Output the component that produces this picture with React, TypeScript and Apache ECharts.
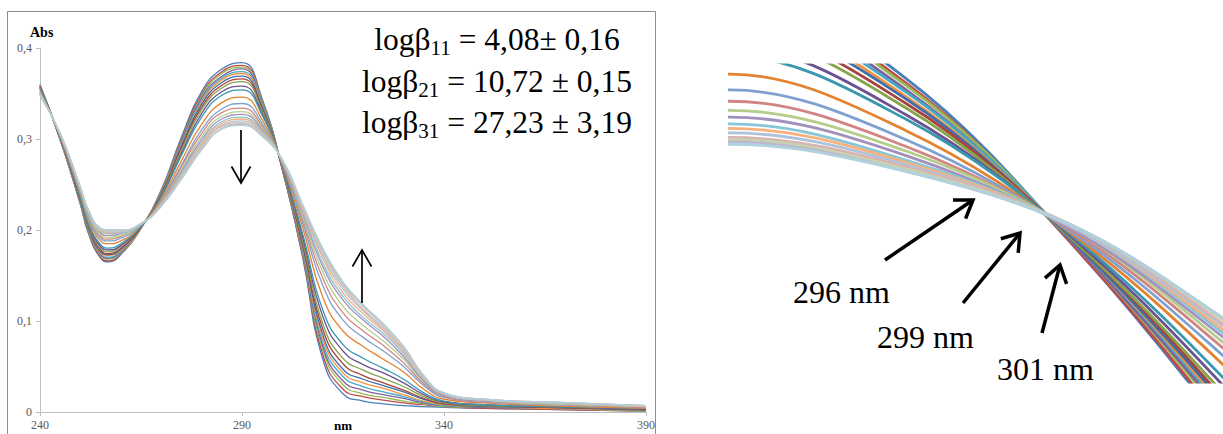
import React, { useEffect, useRef } from "react";
import * as echarts from "echarts";

// Wavelengths (nm) at which the spectra were read
const wavelengths = [240, 245, 250, 252, 255, 257, 260, 265, 270, 275, 280, 285, 290, 295, 300, 305, 310, 315, 320, 325, 330, 335, 340, 350, 365, 390];

// Absorbance: one row per wavelength, one column per titration step (23 spectra)
const absorbance: number[][] = [
  [0.360, 0.359, 0.359, 0.359, 0.358, 0.358, 0.357, 0.357, 0.356, 0.355, 0.355, 0.353, 0.352, 0.351, 0.351, 0.350, 0.350, 0.349, 0.349, 0.349, 0.348, 0.348, 0.348],
  [0.299, 0.299, 0.300, 0.300, 0.300, 0.300, 0.301, 0.301, 0.301, 0.302, 0.302, 0.303, 0.304, 0.304, 0.305, 0.305, 0.305, 0.305, 0.306, 0.306, 0.306, 0.306, 0.306],
  [0.228, 0.229, 0.229, 0.230, 0.231, 0.232, 0.232, 0.233, 0.234, 0.235, 0.236, 0.239, 0.241, 0.242, 0.243, 0.244, 0.245, 0.245, 0.246, 0.246, 0.247, 0.247, 0.247],
  [0.196, 0.197, 0.198, 0.199, 0.200, 0.201, 0.202, 0.203, 0.204, 0.206, 0.207, 0.211, 0.213, 0.215, 0.216, 0.218, 0.219, 0.220, 0.220, 0.221, 0.221, 0.222, 0.222],
  [0.169, 0.170, 0.172, 0.173, 0.174, 0.175, 0.176, 0.178, 0.180, 0.182, 0.184, 0.188, 0.191, 0.193, 0.195, 0.197, 0.198, 0.199, 0.200, 0.201, 0.201, 0.202, 0.202],
  [0.165, 0.166, 0.168, 0.169, 0.170, 0.172, 0.173, 0.174, 0.176, 0.178, 0.180, 0.185, 0.188, 0.190, 0.192, 0.194, 0.196, 0.197, 0.198, 0.199, 0.199, 0.200, 0.200],
  [0.173, 0.174, 0.175, 0.176, 0.177, 0.178, 0.179, 0.180, 0.182, 0.183, 0.185, 0.188, 0.191, 0.193, 0.194, 0.196, 0.197, 0.198, 0.198, 0.199, 0.199, 0.200, 0.200],
  [0.202, 0.202, 0.202, 0.203, 0.203, 0.203, 0.203, 0.203, 0.204, 0.204, 0.204, 0.205, 0.205, 0.206, 0.206, 0.206, 0.206, 0.207, 0.207, 0.207, 0.207, 0.207, 0.207],
  [0.244, 0.243, 0.243, 0.242, 0.241, 0.241, 0.240, 0.239, 0.238, 0.237, 0.236, 0.234, 0.232, 0.231, 0.230, 0.229, 0.228, 0.228, 0.227, 0.227, 0.226, 0.226, 0.226],
  [0.302, 0.300, 0.298, 0.297, 0.295, 0.293, 0.292, 0.290, 0.287, 0.284, 0.282, 0.276, 0.271, 0.269, 0.266, 0.264, 0.262, 0.260, 0.259, 0.258, 0.257, 0.256, 0.256],
  [0.352, 0.349, 0.347, 0.345, 0.342, 0.340, 0.338, 0.335, 0.332, 0.328, 0.324, 0.316, 0.310, 0.306, 0.302, 0.299, 0.296, 0.294, 0.292, 0.291, 0.289, 0.288, 0.288],
  [0.377, 0.374, 0.372, 0.369, 0.367, 0.365, 0.362, 0.359, 0.356, 0.352, 0.348, 0.340, 0.333, 0.329, 0.325, 0.322, 0.319, 0.317, 0.315, 0.314, 0.312, 0.311, 0.311],
  [0.384, 0.381, 0.379, 0.377, 0.374, 0.372, 0.369, 0.366, 0.363, 0.358, 0.354, 0.346, 0.339, 0.334, 0.330, 0.327, 0.324, 0.322, 0.320, 0.318, 0.317, 0.316, 0.315],
  [0.344, 0.342, 0.341, 0.339, 0.338, 0.336, 0.335, 0.333, 0.331, 0.328, 0.326, 0.321, 0.317, 0.314, 0.312, 0.310, 0.308, 0.307, 0.306, 0.305, 0.304, 0.303, 0.303],
  [0.266, 0.266, 0.267, 0.267, 0.268, 0.268, 0.268, 0.269, 0.269, 0.270, 0.271, 0.272, 0.273, 0.274, 0.275, 0.275, 0.276, 0.276, 0.276, 0.277, 0.277, 0.277, 0.277],
  [0.170, 0.172, 0.175, 0.177, 0.179, 0.181, 0.183, 0.185, 0.188, 0.192, 0.196, 0.203, 0.208, 0.212, 0.215, 0.218, 0.220, 0.222, 0.224, 0.225, 0.227, 0.228, 0.228],
  [0.058, 0.063, 0.068, 0.072, 0.076, 0.081, 0.085, 0.091, 0.097, 0.105, 0.112, 0.126, 0.139, 0.147, 0.154, 0.160, 0.164, 0.169, 0.172, 0.175, 0.177, 0.179, 0.180],
  [0.020, 0.025, 0.030, 0.034, 0.039, 0.043, 0.047, 0.053, 0.059, 0.067, 0.074, 0.089, 0.101, 0.109, 0.116, 0.123, 0.127, 0.131, 0.135, 0.138, 0.140, 0.142, 0.143],
  [0.012, 0.017, 0.020, 0.024, 0.028, 0.032, 0.036, 0.040, 0.046, 0.052, 0.059, 0.072, 0.082, 0.089, 0.095, 0.101, 0.104, 0.108, 0.111, 0.113, 0.116, 0.117, 0.118],
  [0.009, 0.013, 0.016, 0.019, 0.022, 0.026, 0.029, 0.032, 0.037, 0.043, 0.048, 0.058, 0.067, 0.073, 0.078, 0.083, 0.086, 0.089, 0.091, 0.093, 0.095, 0.096, 0.097],
  [0.007, 0.010, 0.012, 0.015, 0.017, 0.019, 0.022, 0.024, 0.028, 0.032, 0.036, 0.044, 0.050, 0.054, 0.058, 0.061, 0.064, 0.066, 0.068, 0.069, 0.071, 0.072, 0.072],
  [0.006, 0.008, 0.009, 0.010, 0.011, 0.012, 0.014, 0.015, 0.017, 0.019, 0.021, 0.025, 0.029, 0.031, 0.033, 0.034, 0.036, 0.037, 0.038, 0.039, 0.039, 0.040, 0.040],
  [0.005, 0.006, 0.006, 0.007, 0.007, 0.008, 0.009, 0.009, 0.010, 0.011, 0.012, 0.014, 0.016, 0.017, 0.018, 0.018, 0.019, 0.020, 0.020, 0.020, 0.021, 0.021, 0.021],
  [0.004, 0.004, 0.005, 0.005, 0.006, 0.006, 0.006, 0.007, 0.007, 0.008, 0.008, 0.010, 0.011, 0.011, 0.012, 0.012, 0.013, 0.013, 0.013, 0.014, 0.014, 0.014, 0.014],
  [0.003, 0.003, 0.004, 0.004, 0.004, 0.004, 0.005, 0.005, 0.006, 0.006, 0.006, 0.007, 0.008, 0.009, 0.009, 0.010, 0.010, 0.010, 0.010, 0.011, 0.011, 0.011, 0.011],
  [0.001, 0.001, 0.001, 0.002, 0.002, 0.002, 0.002, 0.003, 0.003, 0.003, 0.004, 0.004, 0.005, 0.005, 0.006, 0.006, 0.006, 0.006, 0.007, 0.007, 0.007, 0.007, 0.007],
];

const curveColors = [
  "#4A7EBB", "#BE4B48", "#98B954", "#7D60A0", "#46AAC5", "#F69240",
  "#3F6FA8", "#A8423F", "#86A44A", "#6B5290", "#3A97B0", "#E3832F",
  "#7FA1CF", "#D08583", "#B5CD8A", "#A391BD", "#85C6D8", "#F8B17A",
  "#AFC2DB", "#D9B3B2", "#C6D3AE", "#BEB5CF", "#B0D2DC",
];

// Axis settings (main chart)
const xMin = 240, xMax = 390, xStep = 50;
const yMin = 0, yMax = 0.4, yStep = 0.1;
// Zoomed window of the isosbestic region (inset)
const insetX = [290, 304];
const insetY = [0.21, 0.35];

const fitLines = [
  { pre: "logβ", sub: "11", post: " = 4,08± 0,16" },
  { pre: "logβ", sub: "21", post: " = 10,72 ± 0,15" },
  { pre: "logβ", sub: "31", post: " = 27,23 ± 3,19" },
];
const isoLabels = ["296 nm", "299 nm", "301 nm"];

const SERIF = "Liberation Serif";

let measureCtx: CanvasRenderingContext2D | null = null;
function measure(text: string, size: number, weight = "normal") {
  if (!measureCtx) measureCtx = document.createElement("canvas").getContext("2d");
  if (!measureCtx) return text.length * size * 0.5;
  measureCtx.font = `${weight} ${size}px ${SERIF}`;
  return measureCtx.measureText(text).width;
}

function textEl(text: string, x: number, baseline: number, size: number, align = "left", weight = "normal", fill = "#000") {
  return {
    type: "text",
    silent: true,
    x,
    y: baseline - 0.34 * size,
    style: {
      text,
      fontSize: size,
      fontFamily: SERIF,
      fontWeight: weight,
      fill,
      align,
      textAlign: align,
      verticalAlign: "middle",
      textVerticalAlign: "middle",
    },
  };
}

function arrow(tail: number[], tip: number[], width: number, headLen: number, headAngleDeg: number) {
  const dx = tip[0] - tail[0], dy = tip[1] - tail[1];
  const len = Math.hypot(dx, dy);
  const bx = -dx / len, by = -dy / len;
  const a = (headAngleDeg * Math.PI) / 180;
  const rot = (s: number) => [
    tip[0] + headLen * (bx * Math.cos(s * a) - by * Math.sin(s * a)),
    tip[1] + headLen * (bx * Math.sin(s * a) + by * Math.cos(s * a)),
  ];
  return [
    { type: "line", silent: true, z: 10, shape: { x1: tail[0], y1: tail[1], x2: tip[0], y2: tip[1] }, style: { stroke: "#000", lineWidth: width } },
    { type: "polyline", silent: true, z: 10, shape: { points: [rot(1), tip, rot(-1)] }, style: { stroke: "#000", lineWidth: width, fill: "none" } },
  ];
}

export default function App() {
  const ref = useRef<HTMLDivElement>(null);
  useEffect(() => {
    if (!ref.current) return;
    const chart = echarts.init(ref.current, undefined, { renderer: "svg" });

    const nCurves = absorbance[0].length;
    const series: any[] = [];
    for (let g = 0; g < 2; g++) {
      for (let k = 0; k < nCurves; k++) {
        series.push({
          type: "line",
          xAxisIndex: g,
          yAxisIndex: g,
          smooth: g === 0 ? 0.5 : 0.35,
          symbol: "none",
          silent: true,
          clip: true,
          lineStyle: { color: curveColors[k % curveColors.length], width: g === 0 ? 1.3 : 2.8 },
          data: wavelengths.map((w, i) => [w, absorbance[i][k]]),
        });
      }
    }

    const graphic: any[] = [];
    graphic.push({
      type: "rect",
      silent: true,
      shape: { x: 7.5, y: 11.5, width: 648, height: 440 },
      style: { fill: "none", stroke: "#8c8c8c", lineWidth: 1 },
    });
    graphic.push(textEl("Abs", 30, 37.5, 14, "left", "bold"));
    graphic.push(textEl("nm", 343, 430, 13, "center", "bold"));

    // fit results text block
    const baselines = [50.5, 92, 133.5];
    const big = 31.5, small = 21;
    fitLines.forEach((ln, i) => {
      const w1 = measure(ln.pre, big), w2 = measure(ln.sub, small), w3 = measure(ln.post, big);
      const x0 = 497 - (w1 + w2 + w3) / 2;
      graphic.push(textEl(ln.pre, x0, baselines[i], big));
      graphic.push(textEl(ln.sub, x0 + w1, baselines[i] + 5, small));
      graphic.push(textEl(ln.post, x0 + w1 + w2, baselines[i], big));
    });

    // main arrows
    graphic.push(...arrow([241, 130], [241, 183], 1.7, 19, 30));
    graphic.push(...arrow([362, 303], [362, 250], 1.7, 19, 30));

    // inset arrows & labels
    graphic.push(...arrow([885, 260], [973, 200], 3.5, 20, 34));
    graphic.push(...arrow([963, 303], [1020, 233], 3.5, 20, 34));
    graphic.push(...arrow([1042, 333], [1060, 265], 3.5, 20, 34));
    graphic.push(textEl(isoLabels[0], 793, 303, 32));
    graphic.push(textEl(isoLabels[1], 877, 348, 32));
    graphic.push(textEl(isoLabels[2], 997, 380, 32));

    const axisColor = "#bfbfbf";
    const labelStyle = { fontFamily: SERIF, fontSize: 12, color: "#595959" };

    chart.setOption({
      animation: false,
      backgroundColor: "#ffffff",
      grid: [
        { left: 40, right: 1223 - 646, top: 48, bottom: 434 - 412, containLabel: false },
        { left: 730, right: 0, top: 65, bottom: 434 - 382, containLabel: false },
      ],
      xAxis: [
        {
          type: "value",
          gridIndex: 0,
          min: xMin,
          max: xMax,
          interval: xStep,
          axisLine: { show: true, lineStyle: { color: axisColor, width: 1 } },
          axisTick: { show: true, length: 4, lineStyle: { color: axisColor } },
          axisLabel: { ...labelStyle, margin: 7 },
          splitLine: { show: false },
        },
        {
          type: "value",
          gridIndex: 1,
          min: insetX[0],
          max: insetX[1],
          show: false,
          splitLine: { show: false },
        },
      ],
      yAxis: [
        {
          type: "value",
          gridIndex: 0,
          min: yMin,
          max: yMax,
          interval: yStep,
          axisLine: { show: true, lineStyle: { color: axisColor, width: 1 } },
          axisTick: { show: true, length: 4, lineStyle: { color: axisColor } },
          axisLabel: {
            ...labelStyle,
            margin: 8,
            formatter: (v: number) => (v === 0 ? "0" : v.toFixed(1).replace(".", ",")),
          },
          splitLine: { show: false },
        },
        {
          type: "value",
          gridIndex: 1,
          min: insetY[0],
          max: insetY[1],
          show: false,
          splitLine: { show: false },
        },
      ],
      series,
      graphic,
    });

    return () => chart.dispose();
  }, []);

  return (
    <div
      ref={ref}
      style={{ position: "fixed", left: 0, top: 0, width: 1223, height: 434, background: "#fff" }}
    />
  );
}
